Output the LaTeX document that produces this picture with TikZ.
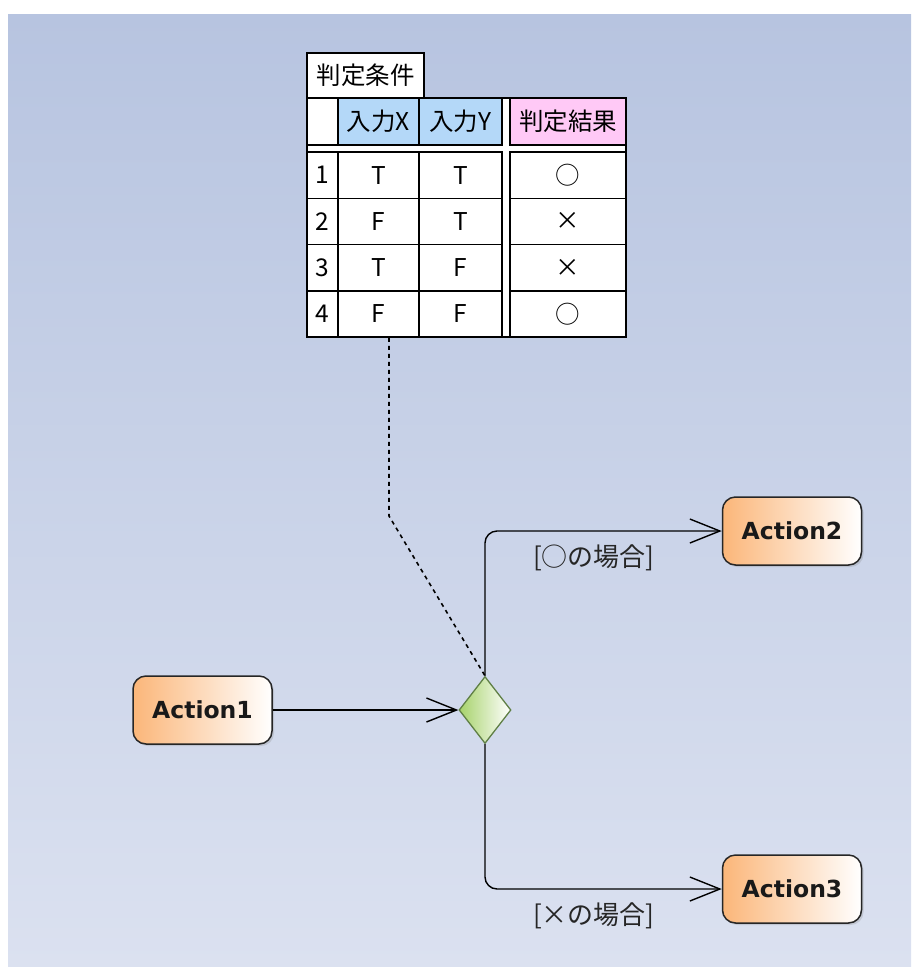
\documentclass[tikz,border=0pt]{standalone}
\usepackage{fontspec}
\setmainfont{Noto Sans CJK JP}
\newfontfamily\actfont{DejaVu Sans}
\usetikzlibrary{shapes.geometric, arrows.meta, shadows}
\definecolor{bgtop}{HTML}{B7C4E0}
\definecolor{bgbot}{HTML}{DBE1F0}
\definecolor{actorange}{HTML}{FBB679}
\definecolor{hdrblue}{HTML}{B4D8F8}
\definecolor{hdrpink}{HTML}{FFC9F6}
\definecolor{decgreen}{HTML}{A6D26A}
\definecolor{decline}{HTML}{5F7F45}
\tikzset{
  cell/.style={draw, line width=1.5pt, fill=white, inner sep=0pt, minimum height=46.25pt,
    font=\fontsize{24.5}{26}\selectfont},
  action/.style={draw=black!85, line width=1.5pt, rounded corners=13pt, minimum width=139pt,
    minimum height=68pt, left color=actorange, middle color=actorange!90!white, right color=white,
    font=\actfont\bfseries\fontsize{23.5}{25}\selectfont, text=black!90,
    drop shadow={shadow xshift=2pt, shadow yshift=-2pt, opacity=0.25}},
  decision/.style={diamond, draw=decline, line width=1.3pt, aspect=0.78, inner sep=0pt,
    minimum width=52pt, minimum height=67pt, left color=decgreen, right color=white},
  flow/.style={line width=1.4pt, -{Straight Barb[length=30pt, width=24pt, line width=1.4pt]}},
  note/.style={line width=1.6pt, dash pattern=on 4pt off 4pt},
  guard/.style={font=\fontsize{26}{28}\selectfont, text=black!85}
}

\begin{document}
\begin{tikzpicture}[x=1pt, y=-1pt]
    \useasboundingbox[fill=white] (0,0) rectangle (911,967);
    \fill[top color=bgtop, bottom color=bgbot] (8,14) rectangle (911,967);

    % decision table
    \node[cell, minimum width=117pt, minimum height=45pt] (ttl) at (365.5,75.5) {判定条件};
    \draw[line width=1.5pt, fill=white] (307,98) rectangle (626,337);
    \node[cell, minimum width=31pt, minimum height=47pt] (hn) at (322.5,121.5) {};
    \node[cell, minimum width=81pt, minimum height=47pt, fill=hdrblue] (hx) at (378.5,121.5) {入力X};
    \node[cell, minimum width=83pt, minimum height=47pt, fill=hdrblue] (hy) at (460.5,121.5) {入力Y};
    \node[cell, minimum width=116pt, minimum height=47pt, fill=hdrpink] (hr) at (568,121.5) {判定結果};
    \foreach \r/\vx/\vy/\res in {1/T/T/○, 2/F/T/×, 3/T/F/×, 4/F/F/○} {
        \node[cell, minimum width=31pt] (n\r) at (322.5,{152+46.25*(\r-0.5)}) {\r};
        \node[cell, minimum width=81pt] (x\r) at (378.5,{152+46.25*(\r-0.5)}) {\vx};
        \node[cell, minimum width=83pt] (y\r) at (460.5,{152+46.25*(\r-0.5)}) {\vy};
        \node[cell, minimum width=116pt] (r\r) at (568,{152+46.25*(\r-0.5)}) {\res};
    }

    % activity
    \node[action] (act1) at (202.5,710) {Action1};
    \node[decision] (dec) at (485,710) {};
    \node[action] (act2) at (792,531) {Action2};
    \node[action] (act3) at (792,889) {Action3};
    \coordinate (bend) at (389,516);

    \draw[note] (bend |- x4.south) -- (bend) -- (dec.north);
    \draw[flow] (act1.east) -- (dec.west);
    \draw[flow, rounded corners=12pt] (dec.north) |- node[guard, below=10pt, pos=0.73] {[○の場合]} (act2.west);
    \draw[flow, rounded corners=12pt] (dec.south) |- node[guard, below=10pt, pos=0.73] {[×の場合]} (act3.west);
\end{tikzpicture}
\end{document}
